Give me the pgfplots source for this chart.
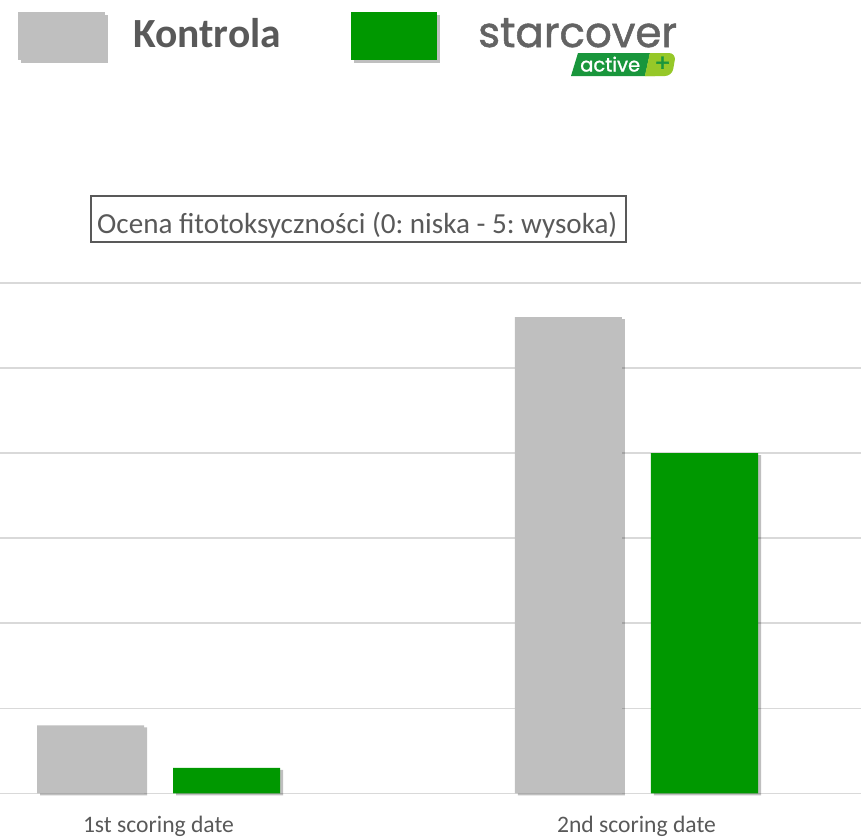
\documentclass[border=0pt]{standalone}
\usepackage{fontspec}
\setmainfont{Carlito}
\newfontfamily\logofont[FakeBold=1.2]{Poppins}
\usepackage{pgfplots}
\pgfplotsset{compat=1.18}
\usetikzlibrary{shadows}
\frenchspacing
\definecolor{barg}{RGB}{191,191,191}
\definecolor{bargreen}{RGB}{0,152,0}
\definecolor{txt}{RGB}{89,89,89}
\definecolor{gridc}{RGB}{217,217,217}
\definecolor{logogray}{RGB}{99,99,99}
\definecolor{logogreen}{RGB}{25,150,60}
\definecolor{logolime}{RGB}{150,200,40}
\begin{document}
\begin{tikzpicture}
\useasboundingbox (0,0) rectangle (861pt,-836pt);
\begin{axis}[
  at={(0pt,-793.3pt)}, anchor=south west,
  scale only axis, width=861pt, height=510.3pt,
  xmin=-0.3316, xmax=1.4697, ymin=0, ymax=6,
  ytick={0,1,2,3,4,5,6}, yticklabels={},
  ymajorgrids, major grid style={gridc, line width=1.5pt},
  axis line style={draw=none}, major tick length=0pt,
  xtick={0,1}, xticklabels={1st scoring date, 2nd scoring date},
  xticklabel style={anchor=base, yshift=-39.3pt, inner sep=0pt,
    font=\fontsize{23.6}{28}\selectfont, text=txt},
  clip=false, bar width=107pt,
]
\addplot[ybar, fill=barg, draw=none, bar shift=-68pt,
  drop shadow={shadow xshift=3pt, shadow yshift=-2pt, opacity=0.25, fill=black}]
  coordinates {(0,0.8) (1,5.6)};
\addplot[ybar, fill=bargreen, draw=none, bar shift=68pt,
  drop shadow={shadow xshift=3pt, shadow yshift=-2pt, opacity=0.25, fill=black}]
  coordinates {(0,0.3) (1,4.0)};
\end{axis}
% title box
\draw[txt, line width=1.2pt] (91pt,-196pt) rectangle (626pt,-242pt);
\node[anchor=base west, inner sep=0pt, text=txt, font=\fontsize{29.1}{34}\selectfont]
  at (97pt,-233.5pt) {Ocena fitotoksyczności (0: niska - 5: wysoka)};
% legend
\fill[barg, drop shadow={shadow xshift=3pt, shadow yshift=-3pt, opacity=0.25, fill=black}]
  (18pt,-12pt) rectangle (105pt,-60pt);
\node[anchor=base west, inner sep=0pt, text=txt, font=\fontsize{41.5}{48}\selectfont\bfseries]
  at (133pt,-47pt) {Kontrola};
\fill[bargreen, drop shadow={shadow xshift=3pt, shadow yshift=-3pt, opacity=0.25, fill=black}]
  (351pt,-12pt) rectangle (437pt,-60pt);
% logo
\node[anchor=base west, inner sep=0pt, text=logogray, font=\logofont\fontsize{42}{50}\selectfont]
  at (478pt,-47pt) {starcover};
\fill[logogreen] (578pt,-53pt) -- (650pt,-53pt) -- (645pt,-76pt) -- (571pt,-76pt) -- cycle;
\fill[logolime, rounded corners=7pt] (650pt,-53pt) -- (676pt,-53pt) -- (672pt,-76pt) -- (645pt,-76pt);
\fill[logolime] (650pt,-53pt) -- (660pt,-53pt) -- (655pt,-76pt) -- (645pt,-76pt) -- cycle;
\node[anchor=base west, inner sep=0pt, text=white, font=\logofont\fontsize{19.5}{24}\selectfont]
  at (580pt,-71.5pt) {active};
\node[inner sep=0pt, text=logogreen, font=\logofont\fontsize{24}{28}\selectfont]
  at (662.5pt,-64pt) {+};
\end{tikzpicture}
\end{document}
